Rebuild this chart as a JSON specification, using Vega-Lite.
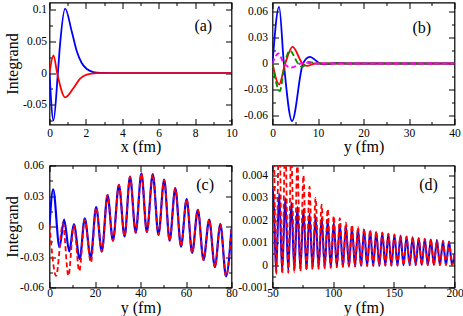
{
"$schema": "https://vega.github.io/schema/vega-lite/v6.json",
"background": "white",
"padding": {"left": 2.5, "top": 0.5, "right": 0, "bottom": 0},
"datasets": {
"a": [
{"s":"blue","x":0,"y":0},{"s":"blue","x":0.22,"y":-0.0746},{"s":"blue","x":0.46,"y":0},{"s":"blue","x":0.58,"y":0.045},{"s":"blue","x":0.86,"y":0.1015},{"s":"blue","x":1.22,"y":0.0658},{"s":"blue","x":1.5,"y":0.0342},{"s":"blue","x":1.77,"y":0.0158},{"s":"blue","x":2.05,"y":0.0063},{"s":"blue","x":2.4,"y":0.0016},{"s":"blue","x":2.8,"y":0.0002},{"s":"blue","x":3.5,"y":0},{"s":"blue","x":10,"y":0},
{"s":"red","x":0,"y":0},{"s":"red","x":0.22,"y":0.0279},{"s":"red","x":0.42,"y":0},{"s":"red","x":0.86,"y":-0.0383},{"s":"red","x":1.32,"y":-0.0236},{"s":"red","x":1.68,"y":-0.0089},{"s":"red","x":2.05,"y":-0.0026},{"s":"red","x":2.6,"y":-0.0003},{"s":"red","x":3.2,"y":0},{"s":"red","x":10,"y":0}
],
"b": [
{"s":"blue","x":0,"y":0},{"s":"blue","x":1.45,"y":0.065},{"s":"blue","x":2.5,"y":0},{"s":"blue","x":4.3,"y":-0.066},{"s":"blue","x":6.7,"y":0},{"s":"blue","x":8.2,"y":0.0077},{"s":"blue","x":10.5,"y":0},{"s":"blue","x":12,"y":-0.0008},{"s":"blue","x":14,"y":0.0008},{"s":"blue","x":16.5,"y":0},{"s":"blue","x":40,"y":0},
{"s":"red","x":0,"y":0},{"s":"red","x":1.45,"y":-0.024},{"s":"red","x":2.8,"y":0},{"s":"red","x":4.4,"y":0.019},{"s":"red","x":6.6,"y":0},{"s":"red","x":7.5,"y":-0.0028},{"s":"red","x":9.5,"y":0},{"s":"red","x":40,"y":0},
{"s":"green","x":0,"y":0},{"s":"green","x":1.6,"y":-0.0316},{"s":"green","x":2.7,"y":0},{"s":"green","x":3.8,"y":0.0148},{"s":"green","x":5.6,"y":0},{"s":"green","x":6.5,"y":-0.004},{"s":"green","x":8.0,"y":0.0018},{"s":"green","x":9.5,"y":0},{"s":"green","x":40,"y":0},
{"s":"magenta","x":0,"y":0},{"s":"magenta","x":1.3,"y":0.0115},{"s":"magenta","x":2.5,"y":0},{"s":"magenta","x":4.2,"y":-0.0046},{"s":"magenta","x":6.2,"y":0},{"s":"magenta","x":7.5,"y":0.0008},{"s":"magenta","x":9,"y":0},{"s":"magenta","x":40,"y":0}
],
"c": [
{"s":"blue","x":0,"y":0.001},{"s":"blue","x":1.6,"y":0.0365},{"s":"blue","x":4.4,"y":-0.0203},{"s":"blue","x":6.4,"y":0.0069},{"s":"blue","x":8.7,"y":-0.0246},{"s":"blue","x":10.7,"y":0.0023},{"s":"blue","x":13.3,"y":-0.032},{"s":"blue","x":15.5,"y":0.008},{"s":"blue","x":18.1,"y":-0.031},{"s":"blue","x":20.5,"y":0.019},{"s":"blue","x":23,"y":-0.0246},{"s":"blue","x":25.5,"y":0.031},{"s":"blue","x":27.9,"y":-0.014},{"s":"blue","x":30.5,"y":0.041},{"s":"blue","x":33,"y":-0.0098},{"s":"blue","x":35.4,"y":0.049},{"s":"blue","x":37.9,"y":-0.006},{"s":"blue","x":40.4,"y":0.0524},{"s":"blue","x":42.8,"y":-0.0055},{"s":"blue","x":45.4,"y":0.0516},{"s":"blue","x":47.9,"y":-0.0082},{"s":"blue","x":50.4,"y":0.0462},{"s":"blue","x":52.8,"y":-0.014},{"s":"blue","x":55.3,"y":0.0377},{"s":"blue","x":57.8,"y":-0.0197},{"s":"blue","x":60.3,"y":0.027},{"s":"blue","x":62.7,"y":-0.026},{"s":"blue","x":65.2,"y":0.0164},{"s":"blue","x":67.7,"y":-0.033},{"s":"blue","x":70.2,"y":0.0068},{"s":"blue","x":72.7,"y":-0.04},{"s":"blue","x":75.1,"y":0.0023},{"s":"blue","x":77.6,"y":-0.049},{"s":"blue","x":80,"y":-0.002},
{"s":"red","x":0,"y":0.002},{"s":"red","x":2.9,"y":-0.0485},{"s":"red","x":5.9,"y":0.003},{"s":"red","x":8.3,"y":-0.0485},{"s":"red","x":10.7,"y":0.0012},{"s":"red","x":13.1,"y":-0.044},{"s":"red","x":15.5,"y":0.0068},{"s":"red","x":18.2,"y":-0.0355},{"s":"red","x":20.5,"y":0.0187},{"s":"red","x":23,"y":-0.0246},{"s":"red","x":25.5,"y":0.031},{"s":"red","x":27.9,"y":-0.014},{"s":"red","x":30.5,"y":0.041},{"s":"red","x":33,"y":-0.0098},{"s":"red","x":35.4,"y":0.049},{"s":"red","x":37.9,"y":-0.006},{"s":"red","x":40.4,"y":0.0524},{"s":"red","x":42.8,"y":-0.0055},{"s":"red","x":45.4,"y":0.0516},{"s":"red","x":47.9,"y":-0.0082},{"s":"red","x":50.4,"y":0.0462},{"s":"red","x":52.8,"y":-0.014},{"s":"red","x":55.3,"y":0.0377},{"s":"red","x":57.8,"y":-0.0197},{"s":"red","x":60.3,"y":0.027},{"s":"red","x":62.7,"y":-0.026},{"s":"red","x":65.2,"y":0.0164},{"s":"red","x":67.7,"y":-0.033},{"s":"red","x":70.2,"y":0.0068},{"s":"red","x":72.7,"y":-0.04},{"s":"red","x":75.1,"y":0.0023},{"s":"red","x":77.6,"y":-0.049},{"s":"red","x":80,"y":-0.002}
],
"d": [
{"s":"blue","x":50,"y":0.0033},{"s":"blue","x":50.5,"y":0.0034},{"s":"blue","x":53,"y":-0.0003},{"s":"blue","x":55.5,"y":0.0032},{"s":"blue","x":58,"y":-0.00028},{"s":"blue","x":60.5,"y":0.003},{"s":"blue","x":63,"y":-0.00025},{"s":"blue","x":65.5,"y":0.0028},{"s":"blue","x":68,"y":-0.00022},{"s":"blue","x":70.5,"y":0.0026},{"s":"blue","x":73,"y":-0.0002},{"s":"blue","x":75.5,"y":0.0025},{"s":"blue","x":78,"y":-0.00018},{"s":"blue","x":80.5,"y":0.0023},{"s":"blue","x":83,"y":-0.00015},{"s":"blue","x":85.5,"y":0.0022},{"s":"blue","x":88,"y":-0.00013},{"s":"blue","x":90.5,"y":0.0021},{"s":"blue","x":93,"y":-0.00011},{"s":"blue","x":95.5,"y":0.002},{"s":"blue","x":98,"y":-0.0001},{"s":"blue","x":100.5,"y":0.0019},{"s":"blue","x":103,"y":-0.00008},{"s":"blue","x":105.5,"y":0.00182},{"s":"blue","x":108,"y":-0.00007},{"s":"blue","x":110.5,"y":0.00175},{"s":"blue","x":113,"y":-0.00006},{"s":"blue","x":115.5,"y":0.00168},{"s":"blue","x":118,"y":-0.00005},{"s":"blue","x":120.5,"y":0.00162},{"s":"blue","x":123,"y":-0.00004},{"s":"blue","x":125.5,"y":0.00157},{"s":"blue","x":128,"y":-0.00004},{"s":"blue","x":130.5,"y":0.00152},{"s":"blue","x":133,"y":-0.00003},{"s":"blue","x":135.5,"y":0.00147},{"s":"blue","x":138,"y":-0.00003},{"s":"blue","x":140.5,"y":0.00143},{"s":"blue","x":143,"y":-0.00002},{"s":"blue","x":145.5,"y":0.00139},{"s":"blue","x":148,"y":-0.00002},{"s":"blue","x":150.5,"y":0.00135},{"s":"blue","x":153,"y":-0.00002},{"s":"blue","x":155.5,"y":0.00131},{"s":"blue","x":158,"y":-0.00001},{"s":"blue","x":160.5,"y":0.00127},{"s":"blue","x":163,"y":-0.00001},{"s":"blue","x":165.5,"y":0.00124},{"s":"blue","x":168,"y":0},{"s":"blue","x":170.5,"y":0.0012},{"s":"blue","x":173,"y":0},{"s":"blue","x":175.5,"y":0.00117},{"s":"blue","x":178,"y":0},{"s":"blue","x":180.5,"y":0.00114},{"s":"blue","x":183,"y":0},{"s":"blue","x":185.5,"y":0.00111},{"s":"blue","x":188,"y":0},{"s":"blue","x":190.5,"y":0.00108},{"s":"blue","x":193,"y":0},{"s":"blue","x":195.5,"y":0.00105},{"s":"blue","x":198,"y":0},{"s":"blue","x":200,"y":0.0005},
{"s":"red","x":50,"y":0.0065},{"s":"red","x":50.5,"y":0.0068},{"s":"red","x":53,"y":-0.0004},{"s":"red","x":55.5,"y":0.0062},{"s":"red","x":58,"y":-0.00038},{"s":"red","x":60.5,"y":0.0056},{"s":"red","x":63,"y":-0.00034},{"s":"red","x":65.5,"y":0.0051},{"s":"red","x":68,"y":-0.0003},{"s":"red","x":70.5,"y":0.0046},{"s":"red","x":73,"y":-0.00027},{"s":"red","x":75.5,"y":0.004},{"s":"red","x":78,"y":-0.00024},{"s":"red","x":80.5,"y":0.0035},{"s":"red","x":83,"y":-0.0002},{"s":"red","x":85.5,"y":0.003},{"s":"red","x":88,"y":-0.00017},{"s":"red","x":90.5,"y":0.0027},{"s":"red","x":93,"y":-0.00014},{"s":"red","x":95.5,"y":0.0025},{"s":"red","x":98,"y":-0.00012},{"s":"red","x":100.5,"y":0.0022},{"s":"red","x":103,"y":-0.0001},{"s":"red","x":105.5,"y":0.0021},{"s":"red","x":108,"y":-0.00008},{"s":"red","x":110.5,"y":0.0019},{"s":"red","x":113,"y":-0.00007},{"s":"red","x":115.5,"y":0.0018},{"s":"red","x":118,"y":-0.00006},{"s":"red","x":120.5,"y":0.0017},{"s":"red","x":123,"y":-0.00005},{"s":"red","x":125.5,"y":0.00163},{"s":"red","x":128,"y":-0.00004},{"s":"red","x":130.5,"y":0.00157},{"s":"red","x":133,"y":-0.00003},{"s":"red","x":135.5,"y":0.00151},{"s":"red","x":138,"y":-0.00003},{"s":"red","x":140.5,"y":0.00146},{"s":"red","x":143,"y":-0.00002},{"s":"red","x":145.5,"y":0.00141},{"s":"red","x":148,"y":-0.00002},{"s":"red","x":150.5,"y":0.00137},{"s":"red","x":153,"y":-0.00002},{"s":"red","x":155.5,"y":0.00132},{"s":"red","x":158,"y":-0.00001},{"s":"red","x":160.5,"y":0.00128},{"s":"red","x":163,"y":-0.00001},{"s":"red","x":165.5,"y":0.00124},{"s":"red","x":168,"y":0},{"s":"red","x":170.5,"y":0.0012},{"s":"red","x":173,"y":0},{"s":"red","x":175.5,"y":0.00117},{"s":"red","x":178,"y":0},{"s":"red","x":180.5,"y":0.00114},{"s":"red","x":183,"y":0},{"s":"red","x":185.5,"y":0.00111},{"s":"red","x":188,"y":0},{"s":"red","x":190.5,"y":0.00108},{"s":"red","x":193,"y":0},{"s":"red","x":195.5,"y":0.00105},{"s":"red","x":198,"y":0},{"s":"red","x":200,"y":0.0005}
],
"lab": [
{"p":"a","x":8.45,"y":0.0737,"t":"(a)"},
{"p":"b","x":32.8,"y":0.041,"t":"(b)"},
{"p":"c","x":68.4,"y":0.041,"t":"(c)"},
{"p":"d","x":178.6,"y":0.00358,"t":"(d)"}
]
},
"concat": [
{
"width": 182, "height": 122,
"layer": [
{"data": {"name": "a"}, "transform": [{"filter": "datum.s == 'blue'"}],
 "mark": {"type": "line", "color": "#0000ff", "interpolate": "monotone", "clip": true, "strokeWidth": 1.8},
 "encoding": {
  "x": {"field": "x", "type": "quantitative", "scale": {"domain": [0, 10], "nice": false, "zero": false},
   "axis": {"orient": "bottom", "values": [0,1,2,3,4,5,6,7,8,9,10], "tickSize": {"condition": {"test": "datum.value % 2 == 0", "value": -6}, "value": -3}, "labelExpr": "datum.value % 2 == 0 ? replace(format(datum.value, '~g'), '\u2212', '-') : ''", "labelPadding": 9, "title": "x (fm)", "titleY": 26.5, "titleBaseline": "alphabetic", "titleFontWeight": "normal"}},
  "y": {"field": "y", "type": "quantitative", "scale": {"domain": [-0.081, 0.111], "nice": false, "zero": false},
   "axis": {"orient": "left", "values": [-0.075,-0.05,-0.025,0,0.025,0.05,0.075,0.1], "tickSize": {"condition": {"test": "abs(datum.value/0.05 - round(datum.value/0.05)) < 1e-6", "value": -6}, "value": -3}, "labelExpr": "abs(datum.value/0.05 - round(datum.value/0.05)) < 1e-6 ? replace(format(datum.value, '~g'), '\u2212', '-') : ''", "labelPadding": 9, "title": "Integrand", "titleX": -32.5, "titleBaseline": "alphabetic", "titleFontWeight": "normal"}}
 }},
{"data": {"name": "a"}, "transform": [{"filter": "datum.s == 'red'"}],
 "mark": {"type": "line", "color": "#ff0000", "interpolate": "monotone", "clip": true, "strokeWidth": 1.8},
 "encoding": {
  "x": {"field": "x", "type": "quantitative", "scale": {"domain": [0, 10], "nice": false, "zero": false},
   "axis": {"orient": "top", "values": [0,1,2,3,4,5,6,7,8,9,10], "tickSize": {"condition": {"test": "datum.value % 2 == 0", "value": -6}, "value": -3}, "labels": false, "title": null}},
  "y": {"field": "y", "type": "quantitative", "scale": {"domain": [-0.081, 0.111], "nice": false, "zero": false},
   "axis": {"orient": "right", "values": [-0.075,-0.05,-0.025,0,0.025,0.05,0.075,0.1], "tickSize": {"condition": {"test": "abs(datum.value/0.05 - round(datum.value/0.05)) < 1e-6", "value": -6}, "value": -3}, "labels": false, "title": null}}
 }},
{"data": {"name": "lab"}, "transform": [{"filter": "datum.p == 'a'"}],
 "mark": {"type": "text", "font": "Liberation Serif", "fontSize": 16, "fontWeight": "normal", "align": "center", "baseline": "middle", "color": "#000"},
 "encoding": {
  "x": {"field": "x", "type": "quantitative", "scale": {"domain": [0, 10], "nice": false, "zero": false}, "axis": null},
  "y": {"field": "y", "type": "quantitative", "scale": {"domain": [-0.081, 0.111], "nice": false, "zero": false}, "axis": null},
  "text": {"field": "t"}
 }}
],
"resolve": {"axis": {"x": "independent", "y": "independent"}}
},
{
"width": 182, "height": 122,
"layer": [
{"data": {"name": "b"}, "transform": [{"filter": "datum.s == 'blue'"}],
 "mark": {"type": "line", "color": "#0000ff", "interpolate": "monotone", "clip": true, "strokeWidth": 1.8},
 "encoding": {
  "x": {"field": "x", "type": "quantitative", "scale": {"domain": [0, 40], "nice": false, "zero": false},
   "axis": {"orient": "bottom", "values": [0,5,10,15,20,25,30,35,40], "tickSize": {"condition": {"test": "datum.value % 10 == 0", "value": -6}, "value": -3}, "labelExpr": "datum.value % 10 == 0 ? replace(format(datum.value, '~g'), '\u2212', '-') : ''", "labelPadding": 9, "title": "y (fm)", "titleY": 26.5, "titleBaseline": "alphabetic", "titleFontWeight": "normal"}},
  "y": {"field": "y", "type": "quantitative", "scale": {"domain": [-0.07, 0.07], "nice": false, "zero": false},
   "axis": {"orient": "left", "values": [-0.06,-0.045,-0.03,-0.015,0,0.015,0.03,0.045,0.06], "tickSize": {"condition": {"test": "abs(datum.value/0.03 - round(datum.value/0.03)) < 1e-6", "value": -6}, "value": -3}, "labelExpr": "abs(datum.value/0.03 - round(datum.value/0.03)) < 1e-6 ? replace(format(datum.value, '~g'), '\u2212', '-') : ''", "labelPadding": 11, "title": null}}
 }},
{"data": {"name": "b"}, "transform": [{"filter": "datum.s == 'red'"}],
 "mark": {"type": "line", "color": "#ff0000", "interpolate": "monotone", "clip": true, "strokeWidth": 1.8},
 "encoding": {
  "x": {"field": "x", "type": "quantitative", "scale": {"domain": [0, 40], "nice": false, "zero": false},
   "axis": {"orient": "top", "values": [0,5,10,15,20,25,30,35,40], "tickSize": {"condition": {"test": "datum.value % 10 == 0", "value": -6}, "value": -3}, "labels": false, "title": null}},
  "y": {"field": "y", "type": "quantitative", "scale": {"domain": [-0.07, 0.07], "nice": false, "zero": false},
   "axis": {"orient": "right", "values": [-0.06,-0.045,-0.03,-0.015,0,0.015,0.03,0.045,0.06], "tickSize": {"condition": {"test": "abs(datum.value/0.03 - round(datum.value/0.03)) < 1e-6", "value": -6}, "value": -3}, "labels": false, "title": null}}
 }},
{"data": {"name": "b"}, "transform": [{"filter": "datum.s == 'green'"}],
 "mark": {"type": "line", "color": "#009000", "interpolate": "monotone", "clip": true, "strokeWidth": 1.8, "strokeDash": [6, 3]},
 "encoding": {
  "x": {"field": "x", "type": "quantitative", "scale": {"domain": [0, 40], "nice": false, "zero": false}, "axis": null},
  "y": {"field": "y", "type": "quantitative", "scale": {"domain": [-0.07, 0.07], "nice": false, "zero": false}, "axis": null}
 }},
{"data": {"name": "b"}, "transform": [{"filter": "datum.s == 'magenta'"}],
 "mark": {"type": "line", "color": "#ff00ff", "interpolate": "monotone", "clip": true, "strokeWidth": 1.8, "strokeDash": [5, 3]},
 "encoding": {
  "x": {"field": "x", "type": "quantitative", "scale": {"domain": [0, 40], "nice": false, "zero": false}, "axis": null},
  "y": {"field": "y", "type": "quantitative", "scale": {"domain": [-0.07, 0.07], "nice": false, "zero": false}, "axis": null}
 }},
{"data": {"name": "lab"}, "transform": [{"filter": "datum.p == 'b'"}],
 "mark": {"type": "text", "font": "Liberation Serif", "fontSize": 16, "fontWeight": "normal", "align": "center", "baseline": "middle", "color": "#000"},
 "encoding": {
  "x": {"field": "x", "type": "quantitative", "scale": {"domain": [0, 40], "nice": false, "zero": false}, "axis": null},
  "y": {"field": "y", "type": "quantitative", "scale": {"domain": [-0.07, 0.07], "nice": false, "zero": false}, "axis": null},
  "text": {"field": "t"}
 }}
],
"resolve": {"axis": {"x": "independent", "y": "independent"}}
},
{
"width": 182, "height": 122,
"layer": [
{"data": {"name": "c"}, "transform": [{"filter": "datum.s == 'blue'"}],
 "mark": {"type": "line", "color": "#0000ff", "interpolate": "monotone", "clip": true, "strokeWidth": 2.2},
 "encoding": {
  "x": {"field": "x", "type": "quantitative", "scale": {"domain": [0, 80], "nice": false, "zero": false},
   "axis": {"orient": "bottom", "values": [0,10,20,30,40,50,60,70,80], "tickSize": {"condition": {"test": "datum.value % 20 == 0", "value": -6}, "value": -3}, "labelExpr": "datum.value % 20 == 0 ? replace(format(datum.value, '~g'), '\u2212', '-') : ''", "labelPadding": 6, "title": "y (fm)", "titleY": 24.5, "titleBaseline": "alphabetic", "titleFontWeight": "normal"}},
  "y": {"field": "y", "type": "quantitative", "scale": {"domain": [-0.06, 0.06], "nice": false, "zero": false},
   "axis": {"orient": "left", "values": [-0.06,-0.045,-0.03,-0.015,0,0.015,0.03,0.045,0.06], "tickSize": {"condition": {"test": "abs(datum.value/0.03 - round(datum.value/0.03)) < 1e-6", "value": -6}, "value": -3}, "labelExpr": "abs(datum.value/0.03 - round(datum.value/0.03)) < 1e-6 ? replace(format(datum.value, '~g'), '\u2212', '-') : ''", "labelPadding": 12, "title": "Integrand", "titleX": -32.5, "titleBaseline": "alphabetic", "titleFontWeight": "normal"}}
 }},
{"data": {"name": "c"}, "transform": [{"filter": "datum.s == 'red'"}],
 "mark": {"type": "line", "color": "#ff0000", "interpolate": "monotone", "clip": true, "strokeWidth": 1.8, "strokeDash": [5, 3]},
 "encoding": {
  "x": {"field": "x", "type": "quantitative", "scale": {"domain": [0, 80], "nice": false, "zero": false},
   "axis": {"orient": "top", "values": [0,10,20,30,40,50,60,70,80], "tickSize": {"condition": {"test": "datum.value % 20 == 0", "value": -6}, "value": -3}, "labels": false, "title": null}},
  "y": {"field": "y", "type": "quantitative", "scale": {"domain": [-0.06, 0.06], "nice": false, "zero": false},
   "axis": {"orient": "right", "values": [-0.06,-0.045,-0.03,-0.015,0,0.015,0.03,0.045,0.06], "tickSize": {"condition": {"test": "abs(datum.value/0.03 - round(datum.value/0.03)) < 1e-6", "value": -6}, "value": -3}, "labels": false, "title": null}}
 }},
{"data": {"name": "lab"}, "transform": [{"filter": "datum.p == 'c'"}],
 "mark": {"type": "text", "font": "Liberation Serif", "fontSize": 16, "fontWeight": "normal", "align": "center", "baseline": "middle", "color": "#000"},
 "encoding": {
  "x": {"field": "x", "type": "quantitative", "scale": {"domain": [0, 80], "nice": false, "zero": false}, "axis": null},
  "y": {"field": "y", "type": "quantitative", "scale": {"domain": [-0.06, 0.06], "nice": false, "zero": false}, "axis": null},
  "text": {"field": "t"}
 }}
],
"resolve": {"axis": {"x": "independent", "y": "independent"}}
},
{
"width": 182, "height": 122,
"layer": [
{"data": {"name": "d"}, "transform": [{"filter": "datum.s == 'blue'"}],
 "mark": {"type": "line", "color": "#0000ff", "interpolate": "monotone", "clip": true, "strokeWidth": 2},
 "encoding": {
  "x": {"field": "x", "type": "quantitative", "scale": {"domain": [50, 200], "nice": false, "zero": false},
   "axis": {"orient": "bottom", "values": [50,75,100,125,150,175,200], "tickSize": {"condition": {"test": "datum.value % 50 == 0", "value": -6}, "value": -3}, "labelExpr": "datum.value % 50 == 0 ? replace(format(datum.value, '~g'), '\u2212', '-') : ''", "labelPadding": 6, "title": "y (fm)", "titleY": 24.5, "titleBaseline": "alphabetic", "titleFontWeight": "normal"}},
  "y": {"field": "y", "type": "quantitative", "scale": {"domain": [-0.001, 0.00445], "nice": false, "zero": false},
   "axis": {"orient": "left", "values": [-0.001,-0.0005,0,0.0005,0.001,0.0015,0.002,0.0025,0.003,0.0035,0.004], "tickSize": {"condition": {"test": "abs(datum.value/0.001 - round(datum.value/0.001)) < 1e-6", "value": -6}, "value": -3}, "labelExpr": "abs(datum.value/0.001 - round(datum.value/0.001)) < 1e-6 ? replace(format(datum.value, '~g'), '\u2212', '-') : ''", "labelPadding": 11, "title": null}}
 }},
{"data": {"name": "d"}, "transform": [{"filter": "datum.s == 'red'"}],
 "mark": {"type": "line", "color": "#ff0000", "interpolate": "monotone", "clip": true, "strokeWidth": 1.8, "strokeDash": [5, 3]},
 "encoding": {
  "x": {"field": "x", "type": "quantitative", "scale": {"domain": [50, 200], "nice": false, "zero": false},
   "axis": {"orient": "top", "values": [50,75,100,125,150,175,200], "tickSize": {"condition": {"test": "datum.value % 50 == 0", "value": -6}, "value": -3}, "labels": false, "title": null}},
  "y": {"field": "y", "type": "quantitative", "scale": {"domain": [-0.001, 0.00445], "nice": false, "zero": false},
   "axis": {"orient": "right", "values": [-0.001,-0.0005,0,0.0005,0.001,0.0015,0.002,0.0025,0.003,0.0035,0.004], "tickSize": {"condition": {"test": "abs(datum.value/0.001 - round(datum.value/0.001)) < 1e-6", "value": -6}, "value": -3}, "labels": false, "title": null}}
 }},
{"data": {"name": "lab"}, "transform": [{"filter": "datum.p == 'd'"}],
 "mark": {"type": "text", "font": "Liberation Serif", "fontSize": 16, "fontWeight": "normal", "align": "center", "baseline": "middle", "color": "#000"},
 "encoding": {
  "x": {"field": "x", "type": "quantitative", "scale": {"domain": [50, 200], "nice": false, "zero": false}, "axis": null},
  "y": {"field": "y", "type": "quantitative", "scale": {"domain": [-0.001, 0.00445], "nice": false, "zero": false}, "axis": null},
  "text": {"field": "t"}
 }}
],
"resolve": {"axis": {"x": "independent", "y": "independent"}}
}
],
"columns": 2,
"spacing": {"row": 41, "column": 41},
"bounds": "flush",
"config": {
 "font": "Liberation Serif",
 "view": {"stroke": "#000", "strokeWidth": 1.2},
 "style": {"guide-title": {"fontWeight": "normal", "font": "Liberation Serif"}, "guide-label": {"font": "Liberation Serif"}},
 "axis": {"labelFont": "Liberation Serif", "labelFontSize": 11.5, "labelColor": "#000", "titleFont": "Liberation Serif", "titleFontSize": 16, "titleFontWeight": "normal", "titleColor": "#000", "tickColor": "#000", "tickWidth": 1, "domain": false, "grid": false, "labelFlush": false, "labelOverlap": false, "labelBound": false}
}
}
